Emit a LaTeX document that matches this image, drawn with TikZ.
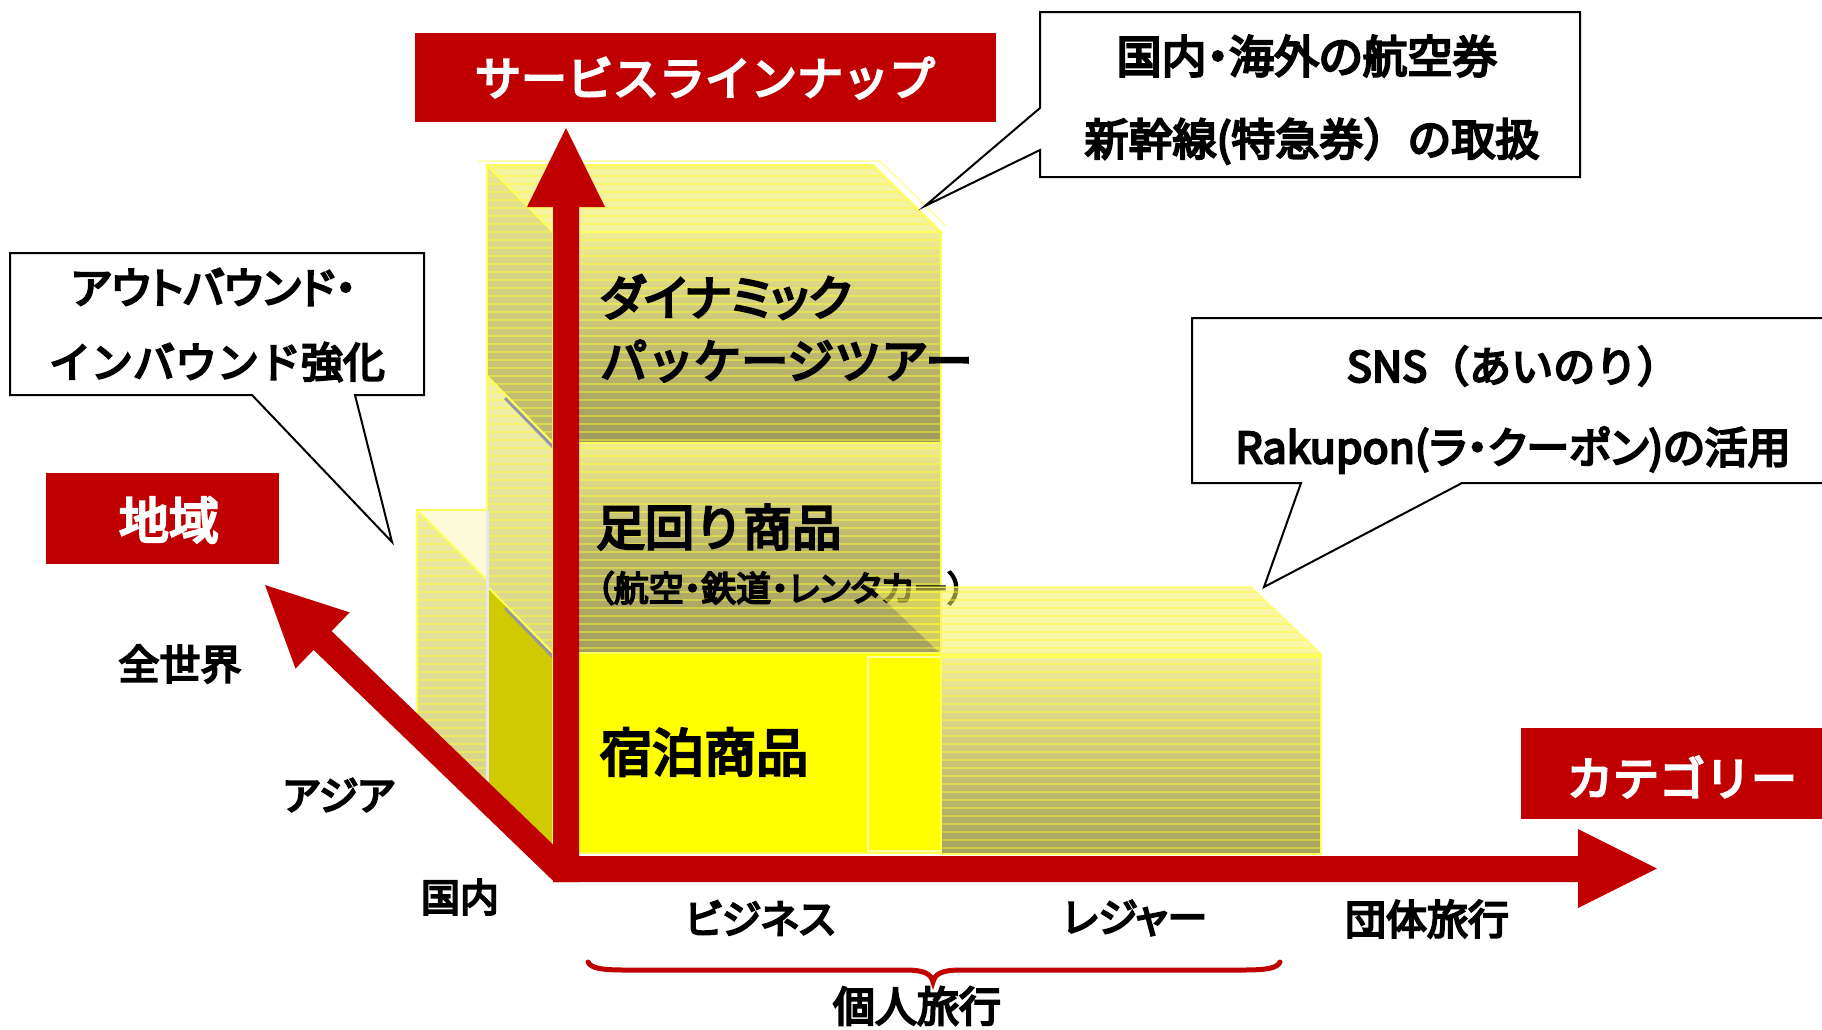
\documentclass[tikz,border=0pt]{standalone}
\usepackage{fontspec}
\setmainfont{Noto Sans CJK JP}[FakeBold=5]
\newfontfamily\pjp{Noto Sans CJK JP}[FakeBold=5,RawFeature=+palt]
\usetikzlibrary{arrows.meta}
\definecolor{axred}{RGB}{192,0,0}
\definecolor{brightyel}{RGB}{255,255,0}
\definecolor{sideyel}{RGB}{207,203,0}
\definecolor{paleyel}{RGB}{245,242,160}
\definecolor{dyntop}{RGB}{240,237,150}
\definecolor{dynmid}{RGB}{196,191,116}
\definecolor{dynbot}{RGB}{158,154,92}
\definecolor{ashitop}{RGB}{240,236,145}
\definecolor{ashimid}{RGB}{184,179,108}
\definecolor{ashibot}{RGB}{164,159,96}
\definecolor{leistop}{RGB}{242,238,158}
\definecolor{leismid}{RGB}{205,200,122}
\definecolor{leisbot}{RGB}{166,161,94}
\definecolor{sidetop}{RGB}{234,230,150}
\definecolor{sidebot}{RGB}{186,181,104}
\definecolor{midtop}{RGB}{244,241,172}
\definecolor{midbot}{RGB}{214,210,135}
\definecolor{asiatop}{RGB}{238,235,168}
\definecolor{asiabot}{RGB}{214,210,135}
\definecolor{asialight}{RGB}{252,250,215}
\definecolor{stripeyel}{RGB}{255,255,40}
\definecolor{edgeyel}{RGB}{255,255,90}
\definecolor{outlineyel}{RGB}{255,255,160}
\definecolor{shadowgray}{RGB}{150,150,165}
\definecolor{leistopface}{RGB}{245,240,100}
\newcommand\myfs[1]{\fontsize{#1}{#1}\selectfont}
\newcommand\stripeclip[1]{\begin{scope}\clip #1;\foreach \yy in {160,168,...,900}{\draw[stripe] (400,\yy) -- (1340,\yy);}\end{scope}}

\begin{document}
\begin{tikzpicture}[x=1pt,y=-1pt,
  redbox/.style={fill=axred,draw=none,inner sep=0},
  wtext/.style={text=white,inner sep=0},
  btext/.style={text=black,inner sep=0},
  bubble/.style={draw=black,line width=2pt,fill=white,line join=miter},
  stripe/.style={draw=stripeyel,line width=1.1pt,opacity=0.45},
  faceedge/.style={draw=edgeyel,line width=2pt},
  axisarrow/.style={fill=axred,draw=none}]
\useasboundingbox (0,0) rectangle (1822,1029);
\fill[white] (0,0) rectangle (1822,1029);

% ---------- small box behind (Asia)
\fill[asialight] (417,510) -- (487,510) -- (487,580) -- cycle;
\shade[top color=asiatop,bottom color=asiabot] (417,510) -- (487,580) -- (487,798) -- (417,730) -- cycle;
\stripeclip{(417,510) -- (487,580) -- (487,798) -- (417,730) -- cycle}
\draw[faceedge] (417,730) -- (417,510) -- (487,510);
\draw[faceedge] (417,510) -- (487,580);

% ---------- main column: side faces
\shade[top color=sidetop,bottom color=sidebot] (487,165) -- (553,232) -- (553,443) -- (487,376) -- cycle;
\stripeclip{(487,165) -- (553,232) -- (553,443) -- (487,376) -- cycle}
\shade[top color=midtop,bottom color=midbot] (487,376) -- (553,443) -- (553,653) -- (487,586) -- cycle;
\stripeclip{(487,376) -- (553,443) -- (553,653) -- (487,586) -- cycle}
\fill[sideyel] (487,586) -- (553,653) -- (553,862) -- (487,798) -- cycle;
\draw[shadowgray,line width=3pt] (505,398) -- (553,447);
\draw[shadowgray,line width=3pt] (505,608) -- (553,657);
\draw[faceedge] (487,376) -- (553,443);
\draw[faceedge] (487,586) -- (553,653);
\draw[draw={rgb,255:red,232;green,232;blue,236},line width=3pt] (487,510) -- (487,798);
\draw[faceedge] (487,165) -- (487,510);

% top face
\fill[paleyel] (487,165) -- (873,165) -- (941,232) -- (553,232) -- cycle;
\stripeclip{(487,165) -- (873,165) -- (941,232) -- (553,232) -- cycle}
\draw[faceedge] (487,165) -- (873,165) -- (941,232) -- (553,232) -- cycle;
\draw[draw=outlineyel,line width=1.5pt] (478,161) -- (880,161) -- (946,226);

% front faces
\shade[top color=dyntop,bottom color=dynbot,middle color=dynmid] (553,232) rectangle (941,443);
\stripeclip{(553,232) rectangle (941,443)}
\shade[top color=ashitop,bottom color=ashibot,middle color=ashimid] (553,443) rectangle (941,653);
\stripeclip{(553,443) rectangle (941,653)}
\fill[brightyel] (553,653) rectangle (941,853);
\draw[draw=outlineyel,line width=1.5pt] (868,657) rectangle (941,851);
\draw[faceedge] (553,232) rectangle (941,853);
\draw[faceedge] (553,443) -- (941,443);
\draw[faceedge] (553,653) -- (941,653);

% leisure box front face
\shade[top color=leistop,bottom color=leisbot,middle color=leismid] (941,654) rectangle (1321,854);
\stripeclip{(941,654) rectangle (1321,854)}
\draw[faceedge] (941,654) rectangle (1321,854);

% ---------- block texts
\node[btext,anchor=west,font=\pjp\myfs{48}] (dyn1) at (600,297) {ダイナミック};
\node[btext,anchor=west,font=\myfs{47}] (dyn2) at (600,361) {パッケージツアー};
\node[btext,anchor=west,font=\myfs{49}] (ashi) at (596,527) {足回り商品};
\node[btext,anchor=west,font=\pjp\myfs{35}] (ashisub) at (596,588) {（航空・鉄道・レンタカー）};
\node[btext,anchor=west,font=\myfs{52}] (shuku) at (600,752) {宿泊商品};

% leisure top face (translucent)
\fill[leistopface,fill opacity=0.55] (871,587) -- (1251,587) -- (1321,654) -- (941,654) -- cycle;
\stripeclip{(871,587) -- (1251,587) -- (1321,654) -- (941,654) -- cycle}
\draw[draw=edgeyel,line width=1.5pt,opacity=0.8] (871,587) -- (1251,587) -- (1321,654);
\draw[draw=edgeyel,line width=4pt] (941,656) -- (1321,656);

% ---------- axes
\coordinate (corner) at (553,882);
\fill[axisarrow] (553,882) -- (553,207) -- (527,207) -- (566,128) -- (605,207) -- (579,207) -- (579,882) -- cycle;
\fill[axisarrow] (553,856) -- (1578,856) -- (1578,829) -- (1657,868.5) -- (1578,908) -- (1578,882) -- (553,882) -- cycle;
\fill[axisarrow] (554,881.6) -- (313.6,649.9) -- (295.5,668.6) -- (265,585) -- (349.7,612.4) -- (331.6,631.1) -- (554,845.5) -- cycle;

% ---------- red label boxes
\node[redbox,minimum width=581pt,minimum height=89pt] (titlebox) at (705.5,77.5) {};
\node[wtext,font=\myfs{46}] (title) at (705,78) {サービスラインナップ};
\node[redbox,minimum width=233pt,minimum height=91pt] (areabox) at (162.5,518.5) {};
\node[wtext,font=\myfs{50}] (area) at (169,520) {地域};
\node[redbox,minimum width=322pt,minimum height=91pt] (catbox) at (1682,773.5) {};
\node[wtext,font=\myfs{46}] (cat) at (1682,777) {カテゴリー};

% ---------- callouts
\coordinate (tipL) at (392,542);
\draw[bubble] (10,253) -- (424,253) -- (424,395) -- (355,395) -- (tipL) -- (252,395) -- (10,395) -- cycle;
\node[btext,font=\pjp\myfs{43}] (lb1) at (214,287) {アウトバウンド・};
\node[btext,font=\myfs{42}] (lb2) at (217,362) {インバウンド強化};

\coordinate (tipT) at (925,206);
\draw[bubble] (1040,12) -- (1580,12) -- (1580,177) -- (1040,177) -- (1040,150) -- (tipT) -- (1040,108) -- cycle;
\node[btext,font=\pjp\myfs{45}] (tr1) at (1307,56) {国内・海外の航空券};
\node[btext,font=\myfs{44}] (tr2) at (1312,141) {新幹線(特急券）の取扱};

\coordinate (tipR) at (1264,587);
\draw[bubble] (1192,318) -- (1850,318) -- (1850,483) -- (1462,483) -- (tipR) -- (1301,483) -- (1192,483) -- cycle;
\node[btext,font=\myfs{42}] (rb1) at (1513,366) {SNS（あいのり）};
\node[btext,font=\pjp\myfs{43}] (rb2) at (1513,450) {Rakupon(ラ・クーポン)の活用};

% ---------- axis labels
\node[btext,font=\myfs{41}] (world) at (180,664) {全世界};
\node[btext,font=\pjp\myfs{40}] (asia) at (339,795) {アジア};
\node[btext,font=\myfs{39}] (dom) at (460,897) {国内};
\node[btext,font=\pjp\myfs{40}] (biz) at (760,918) {ビジネス};
\node[btext,font=\pjp\myfs{40}] (leis) at (1135,918) {レジャー};
\node[btext,font=\myfs{41}] (group) at (1427,919) {団体旅行};
\node[btext,font=\myfs{42}] (indiv) at (917,1006) {個人旅行};

% ---------- brace
\coordinate (braceL) at (588,962);
\coordinate (braceR) at (1280,962);
\draw[axred,line width=5pt,line cap=round] (braceL) .. controls (591,968) and (600,970) .. (625,970) -- (905,970) .. controls (925,970) and (931,974) .. (933,982) .. controls (935,974) and (941,970) .. (961,970) -- (1243,970) .. controls (1268,970) and (1277,968) .. (braceR);
\end{tikzpicture}
\end{document}
